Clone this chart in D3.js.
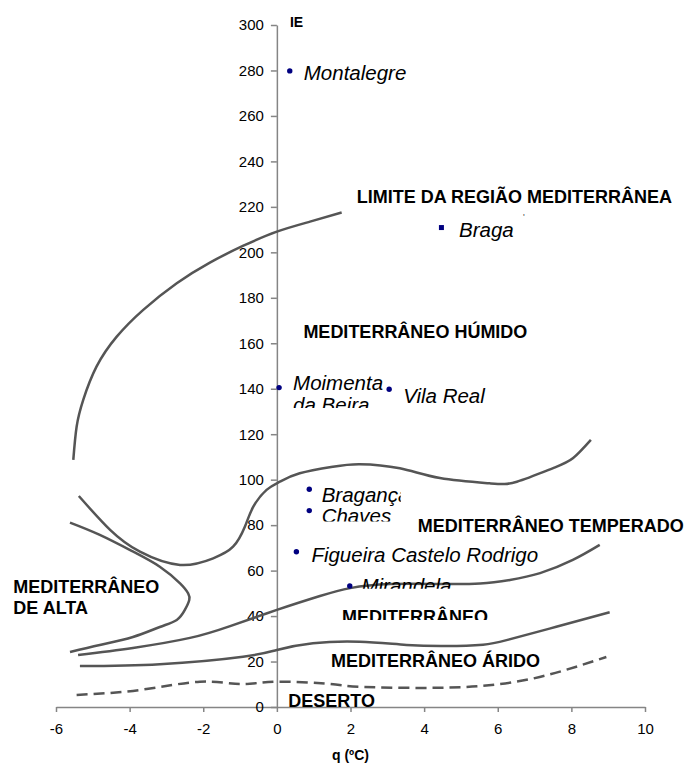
<!DOCTYPE html>
<html>
<head>
<meta charset="utf-8">
<script src="https://cdnjs.cloudflare.com/ajax/libs/d3/7.8.5/d3.min.js"></script>
<style>
  body{margin:0;background:#fff;}
  svg{font-family:Arial,"Liberation Sans",sans-serif;}
  .axis path,.axis line{stroke:#858585;stroke-width:1.5;}
  .axis text{font-size:15px;fill:#000;font-family:Arial,"Liberation Sans",sans-serif;}
  .curve{fill:none;stroke:#555;stroke-width:2.5;}
  .region{font-size:18px;font-weight:bold;fill:#000;}
  .station{font-size:20.5px;font-style:italic;fill:#000;}
  .title{font-size:14px;font-weight:bold;}
</style>
</head>
<body>
<div id="chart"></div>
<script>
// axis ticks
let xTicks=[-6,-4,-2,0,2,4,6,8,10];
let yTicks=[0,20,40,60,80,100,120,140,160,180,200,220,240,260,280,300];

// stations (q in ºC, IE)
let stationNames=["Montalegre","Braga","Moimenta da Beira","Vila Real","Bragança","Chaves","Figueira Castelo Rodrigo","Mirandela"];
let stationQ=[0.35,4.47,0.06,3.05,0.88,0.88,0.53,1.98];
let stationIE=[279.8,210.9,140.5,139.8,95.8,86.4,68.3,53.2];

// boundary curves, [q, IE]
let limiteCurve=[[-5.53,108.7],[-5.44,123.3],[-5.26,135.1],[-4.9,149.7],[-4.35,162.9],[-3.63,174.7],[-2.72,186.4],[-1.82,195.5],[-0.91,202.9],[0,209.1],[0.9,213.5],[1.76,217.5]];
let humidoCurve=[[-5.38,92.8],[-4.53,77.9],[-3.72,68.3],[-2.63,62.5],[-1.73,65.4],[-1.19,70.5],[-0.87,79.3],[-0.64,88.1],[-0.28,95.5],[0.08,99.1],[0.62,102.8],[1.52,105.7],[2.25,106.8],[3.34,105],[4.43,100.7],[5.78,98.4],[6.52,99.1],[7.49,105],[8.04,109.4],[8.53,117.5]];
let altaCurve=[[-5.62,81.1],[-4.81,75.7],[-3.9,68.3],[-3.18,61.7],[-2.63,54.4],[-2.41,50],[-2.38,47.1],[-2.5,42.7],[-2.72,38.3],[-3.18,35.2],[-3.91,30.8],[-4.81,27.3],[-5.62,24.2]];
let temperadoCurve=[[-5.4,22.9],[-3.91,26],[-2.36,30.4],[-1.27,35.6],[0,42.7],[1.17,48.8],[1.99,52.3],[3.07,54.1],[4.43,54.1],[5.52,54.3],[6.33,55.9],[7.15,58.9],[8.04,64.7],[8.77,71.3]];
let aridoCurve=[[-5.35,18],[-3.18,18.8],[-0.92,22.1],[0,25.1],[0.98,28],[2.25,28.7],[3.52,27.3],[4.6,26.8],[5.6,27.4],[6.24,29.4],[7.59,35.3],[9.04,41.7]];
let desertoCurve=[[-5.44,5.3],[-3.72,7.5],[-2.09,11.1],[-1,10.1],[0,11.1],[1.44,10.1],[2.25,8.9],[3.88,8.4],[5.51,9.2],[7.14,13.2],[8.95,22]];

let regionNames=["LIMITE DA REGIÃO MEDITERRÂNEA","MEDITERRÂNEO HÚMIDO","MEDITERRÂNEO TEMPERADO","MEDITERRÂNEO","MEDITERRÂNEO ÁRIDO","DESERTO","MEDITERRÂNEO","DE ALTA"];

let W=695,H=764;
let svg=d3.select('#chart').append('svg').attr('width',W).attr('height',H);

let x=d3.scaleLinear().domain([-6,10]).range([56,645]);
let y=d3.scaleLinear().domain([0,300]).range([707,25]);

let defs=svg.append('defs');

// axes
svg.append('g').attr('class','axis')
  .attr('transform','translate(0,'+y(0)+')')
  .call(d3.axisBottom(x).tickValues(xTicks).tickFormat(d=>String(d)).tickSize(5).tickSizeOuter(0).tickPadding(11));
svg.append('g').attr('class','axis')
  .attr('transform','translate('+x(0)+',0)')
  .call(d3.axisLeft(y).tickValues(yTicks).tickFormat(d=>String(d)).tickSize(6).tickSizeOuter(0).tickPadding(7));

// curves
let line=d3.line().x(d=>x(d[0])).y(d=>y(d[1])).curve(d3.curveNatural);
[limiteCurve,humidoCurve,altaCurve,temperadoCurve,aridoCurve].forEach(c=>{
  svg.append('path').attr('class','curve').attr('d',line(c));
});
svg.append('path').attr('class','curve').attr('d',line(desertoCurve)).attr('stroke-dasharray','11,6');

// clip helper
function clipRect(id,x0,y0,w,h){
  defs.append('clipPath').attr('id',id).append('rect')
    .attr('x',x0).attr('y',y0).attr('width',w).attr('height',h);
  return 'url(#'+id+')';
}

// region labels (position in data units)
let regionPos=[[2.17,221.6],[0.72,162.2],[3.83,77.1],[1.77,37],[1.47,17.7],[0.31,-0.2],[-7.16,50],[-7.16,40.8]];
regionNames.forEach((t,i)=>{
  let tx=x(regionPos[i][0]),ty=y(regionPos[i][1]);
  let el=svg.append('text').attr('class','region').attr('x',tx).attr('y',ty).text(t);
  if(i==3) el.attr('clip-path',clipRect('clipMed',tx-5,ty-30,300,27));
});

// stations
let stations=stationNames.map((n,i)=>({name:n,q:stationQ[i],ie:stationIE[i]}));
let labelOff={
  "Montalegre":[14,9],"Braga":[17.6,9],"Moimenta da Beira":[14,2.5],"Vila Real":[14,13.4],
  "Bragança":[12.4,12.4],"Chaves":[12.4,12.3],"Figueira Castelo Rodrigo":[15,10],"Mirandela":[11.7,6.7]
};

stations.forEach((d,i)=>{
  let px=x(d.q),py=y(d.ie);
  if(d.name=="Braga"){
    svg.append('rect').attr('x',px-2.5).attr('y',py-2.5).attr('width',5).attr('height',5).attr('fill','#000080');
  } else {
    svg.append('circle').attr('cx',px).attr('cy',py).attr('r',2.7).attr('fill','#000080');
  }
  let o=labelOff[d.name];
  let lx=px+o[0],ly=py+o[1];
  let t=svg.append('text').attr('class','station').attr('x',lx).attr('y',ly);
  if(d.name=="Moimenta da Beira"){
    t.append('tspan').attr('x',lx).text('Moimenta');
    t.append('tspan').attr('x',lx).attr('dy',22).text('da Beira');
    t.attr('clip-path',clipRect('clipMoi',lx-5,ly-30,120,48));
  } else if(d.name=="Bragança"){
    t.text(d.name).attr('clip-path',clipRect('clipBra',lx-5,ly-30,84,40));
  } else if(d.name=="Chaves"){
    t.text(d.name).attr('clip-path',clipRect('clipCha',lx-5,ly-30,120,28.5));
  } else if(d.name=="Mirandela"){
    t.text(d.name).attr('clip-path',clipRect('clipMir',lx-5,ly-30,120,26));
  } else {
    t.text(d.name);
  }
  if(d.name=="Braga"){
    svg.append('text').attr('x',lx+64).attr('y',ly-17).attr('font-size',9).attr('fill','#444').text("'");
  }
});

// axis titles
svg.append('text').attr('class','title').attr('x',x(0)+13).attr('y',27).text('IE');
svg.append('text').attr('class','title').attr('x',x(2)).attr('y',760).attr('text-anchor','middle').text('q (ºC)');
</script>
</body>
</html>
